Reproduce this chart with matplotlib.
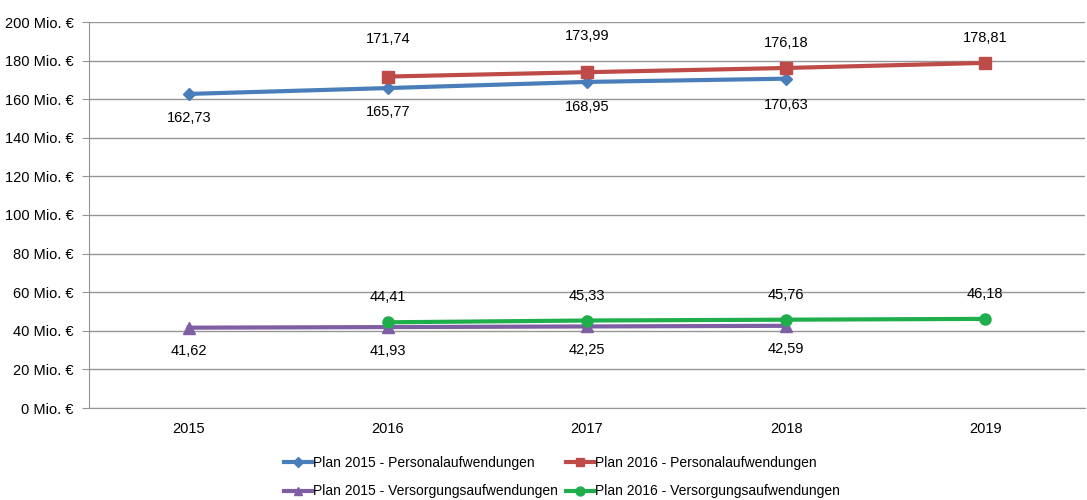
import numpy as np
import matplotlib.pyplot as plt
from matplotlib.ticker import FuncFormatter

# ____________________________________________________________________________________________________
# Data

years = ["2015", "2016", "2017", "2018", "2019"]

pers_2015 = [162.73, 165.77, 168.95, 170.63, None]
pers_2016 = [None, 171.74, 173.99, 176.18, 178.81]
vers_2015 = [41.62, 41.93, 42.25, 42.59, None]
vers_2016 = [None, 44.41, 45.33, 45.76, 46.18]

labels = [
    "Plan 2015 - Personalaufwendungen",
    "Plan 2016 - Personalaufwendungen",
    "Plan 2015 - Versorgungsaufwendungen",
    "Plan 2016 - Versorgungsaufwendungen",
]

# ____________________________________________________________________________________________________
# Plot

plt.rcParams['font.family'] = ['Liberation Sans', 'DejaVu Sans']
plt.rcParams['font.size'] = 10

fig = plt.figure(figsize=(10.87, 5), dpi=100)
ax = fig.add_axes([0.082, 0.184, 0.916, 0.772])

x = np.arange(len(years))

# label offsets in points (negative = below)
series = [
    (pers_2015, "#4a7ebb", "D", 6, [-17, -17, -18, -19, 0]),
    (pers_2016, "#be4b48", "s", 8, [0, 27, 26, 18, 18]),
    (vers_2015, "#7f5fa3", "^", 8, [-17, -17, -17, -17, 0]),
    (vers_2016, "#1fae4c", "o", 8, [0, 18, 18, 18, 18]),
]

handles = []
for (vals, color, marker, ms, offs), label in zip(series, labels):
    v = np.array([np.nan if a is None else a for a in vals], dtype=float)
    h, = ax.plot(x, v, color=color, lw=3, marker=marker, ms=ms, label=label, zorder=3)
    handles.append(h)
    for xi, yi, off in zip(x, v, offs):
        if np.isnan(yi):
            continue
        ax.annotate(f"{yi:.2f}".replace(".", ","), (xi, yi),
                    xytext=(0, off), textcoords="offset points",
                    ha="center", va="center", fontsize=10.5)

ax.set_xlim(-0.5, 4.5)
ax.set_ylim(0, 200)
ax.set_yticks(np.arange(0, 201, 20))
ax.yaxis.set_major_formatter(FuncFormatter(lambda v, p: f"{int(v)} Mio. €"))
ax.set_xticks(x)
ax.set_xticklabels(years)

ax.grid(axis="y", color="#959595", lw=1)
ax.set_axisbelow(True)
for s in ["top", "right"]:
    ax.spines[s].set_visible(False)
for s in ["left", "bottom"]:
    ax.spines[s].set_color("#959595")
ax.tick_params(axis="y", length=5, color="#959595", pad=6, labelsize=10.5)
ax.tick_params(axis="x", length=0, pad=10, labelsize=10.5)

# row-major legend order
order = [0, 2, 1, 3]
fig.legend(handles=[handles[i] for i in order], loc="lower center", ncol=2,
           bbox_to_anchor=(0.517, -0.022),
           frameon=False, handlelength=2.0, handletextpad=0.1, columnspacing=0.6,
           labelspacing=1.05, markerscale=0.8, fontsize=10)

fig.savefig("out.png", dpi=100)
